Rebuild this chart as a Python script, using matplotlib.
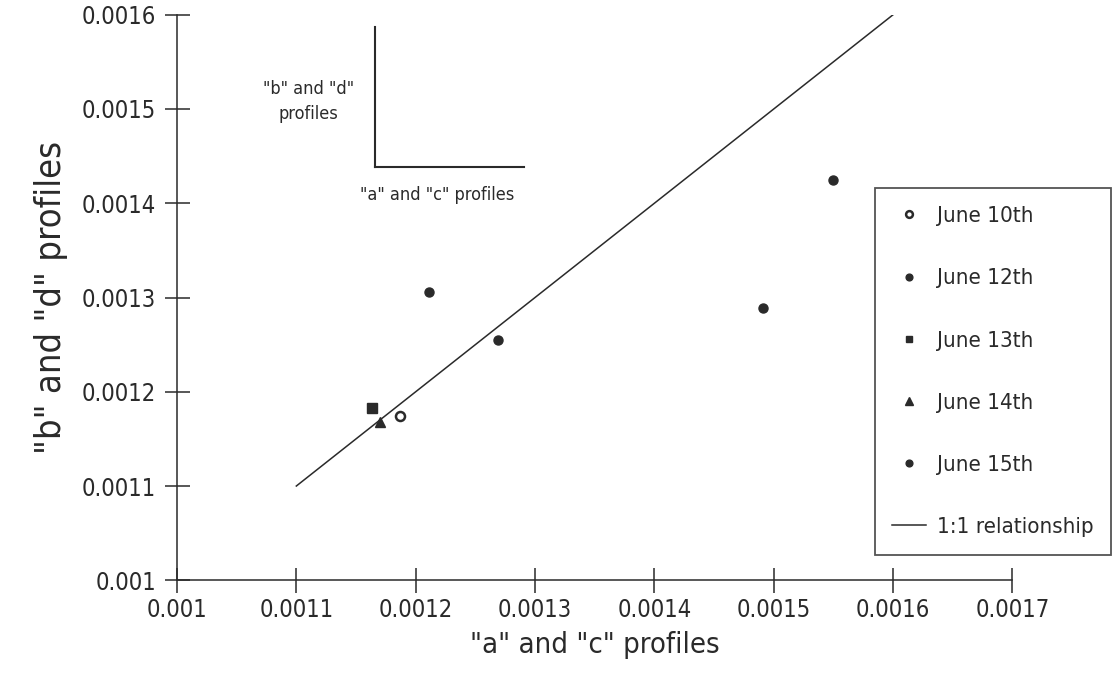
import matplotlib
matplotlib.use("Agg")
import matplotlib.pyplot as plt
from matplotlib.lines import Line2D
from matplotlib import font_manager

names = {f.name for f in font_manager.fontManager.ttflist}
if 'Liberation Sans Narrow' in names:
    plt.rcParams['font.family'] = ['Liberation Sans Narrow', 'DejaVu Sans']
else:
    plt.rcParams['font.family'] = ['DejaVu Sans']
    plt.rcParams['font.stretch'] = 'condensed'

# data
jun10_x = [0.001187]
jun10_y = [0.001174]
jun12_x = [0.001211, 0.001269]
jun12_y = [0.001306, 0.001255]
jun13_x = [0.001163]
jun13_y = [0.001183]
jun14_x = [0.001170]
jun14_y = [0.001168]
jun15_x = [0.001491, 0.001550]
jun15_y = [0.001289, 0.001425]
line_x = [0.0011, 0.0016]
line_y = [0.0011, 0.0016]

xticks = [0.001, 0.0011, 0.0012, 0.0013, 0.0014, 0.0015, 0.0016, 0.0017]
xticklabels = ["0.001", "0.0011", "0.0012", "0.0013", "0.0014", "0.0015", "0.0016", "0.0017"]
yticks = [0.001, 0.0011, 0.0012, 0.0013, 0.0014, 0.0015, 0.0016]
yticklabels = ["0.001", "0.0011", "0.0012", "0.0013", "0.0014", "0.0015", "0.0016"]

ink = "#2a2a2a"
fig = plt.figure(figsize=(11.2, 7), dpi=100)
ax = fig.add_axes([0.158, 0.171, 0.746, 0.808])

ax.plot(jun10_x, jun10_y, 'o', ms=6.5, mfc='white', mec=ink, mew=1.8, ls='none', label='June 10th')
ax.plot(jun12_x, jun12_y, 'o', ms=6.5, color=ink, ls='none', label='June 12th')
ax.plot(jun13_x, jun13_y, 's', ms=6.5, color=ink, ls='none', label='June 13th')
ax.plot(jun14_x, jun14_y, '^', ms=7.5, color=ink, ls='none', label='June 14th')
ax.plot(jun15_x, jun15_y, 'o', ms=6.5, color=ink, ls='none', label='June 15th')
ax.plot(line_x, line_y, '-', color=ink, lw=1.1, label='1:1 relationship')

ax.set_xlim(0.001, 0.0017)
ax.set_ylim(0.001, 0.0016)
ax.set_xticks(xticks, xticklabels)
ax.set_yticks(yticks, yticklabels)
ax.spines['top'].set_visible(False)
ax.spines['right'].set_visible(False)
for s in ('left', 'bottom'):
    ax.spines[s].set_color(ink)
    ax.spines[s].set_linewidth(1.1)
ax.tick_params(direction='inout', length=18, width=1.1, color=ink, labelsize=17, labelcolor=ink)
ax.tick_params(axis='y', pad=6)
ax.tick_params(axis='x', pad=4)
ax.set_xlabel('"a" and "c" profiles', fontsize=21, color=ink, labelpad=6)
ax.set_ylabel('"b" and "d" profiles', fontsize=26, color=ink, labelpad=10)

# small orientation sketch
ax.add_line(Line2D([0.237, 0.237], [0.979, 0.731], transform=ax.transAxes, color=ink, lw=1.5))
ax.add_line(Line2D([0.237, 0.415], [0.731, 0.731], transform=ax.transAxes, color=ink, lw=1.5))
ax.text(0.157, 0.847, '"b" and "d"\nprofiles', transform=ax.transAxes, ha='center', va='center',
        fontsize=13, color=ink, linespacing=1.5)
ax.text(0.311, 0.681, '"a" and "c" profiles', transform=ax.transAxes, ha='center', va='center',
        fontsize=13, color=ink)

leg = ax.legend(loc='upper left', bbox_to_anchor=(0.781, 0.731), bbox_transform=fig.transFigure,
                frameon=True, fancybox=False, edgecolor=ink, fontsize=16, labelspacing=1.9,
                handlelength=1.5, handletextpad=0.5, borderpad=0.8, borderaxespad=0,
                markerscale=0.75)
leg.get_frame().set_linewidth(1.3)
for t in leg.get_texts():
    t.set_color(ink)

fig.savefig('out.png', dpi=100, facecolor='white')
